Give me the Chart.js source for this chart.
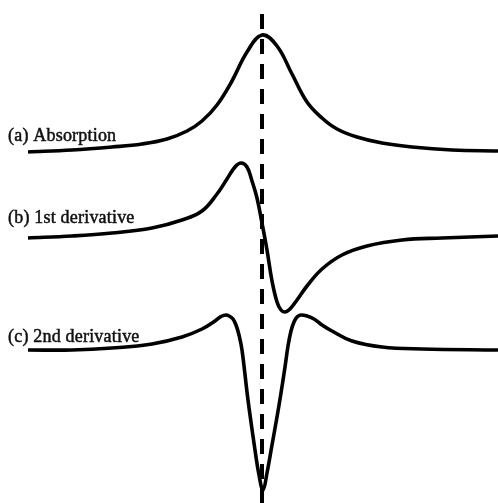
<!DOCTYPE html>
<html>
<head>
<meta charset="utf-8">
<script src="https://cdn.jsdelivr.net/npm/chart.js@4/dist/chart.umd.min.js"></script>
<style>
  html, body { margin: 0; padding: 0; background: #fff; }
  canvas { display: block; }
</style>
</head>
<body>
<canvas id="lineshape" width="498" height="503"></canvas>
<script>
// field offset from resonance (arb. units) and trace heights (arb. units)
const absX = [-234, -190, -150, -120, -95, -75, -60, -45, -30, -15, 0, 15, 30, 45, 60, 75, 95, 120, 150, 190, 236];
const absY = [351, 353, 356, 359, 364, 372, 382, 398, 422, 451, 468, 457, 429, 401, 385, 374, 366, 360, 356, 353, 352];

const d1X = [-234, -190, -150, -110, -80, -60, -45, -35, -27, -21, -15, -10, -5, 0, 5, 10, 15, 19, 23, 28, 35, 45, 60, 80, 105, 140, 180, 236];
const d1Y = [265, 267, 270, 275, 283, 292, 309, 324, 336, 340, 336, 322, 305, 280, 253, 222, 201, 193, 191, 194, 203, 217, 234, 248, 257, 263, 265, 267];

const d2X = [-234, -190, -150, -110, -80, -60, -47, -41, -36, -32, -29, -26, -23, -20, -14, -7, -3, 1, 5, 10, 15, 19, 23, 26, 29, 32, 35, 39, 45, 52, 60, 70, 90, 120, 160, 236];
const d2Y = [153, 153, 155, 159, 166, 174, 182, 186.5, 188, 186.5, 184, 178, 168, 153, 103, 53, 28, 13, 30, 58, 86, 110, 136, 157, 172, 181, 186, 188, 187, 184, 178, 172, 162, 156, 154, 153];

// resonance marker
const centreX = [0, 0];
const centreY = [489, 0];

const traceNames = ['(a) Absorption', '(b) 1st derivative', '(c) 2nd derivative'];

const pairs = (xs, ys) => xs.map((x, i) => ({ x: x, y: ys[i] }));

const traceLabels = {
  id: 'traceLabels',
  afterDatasetsDraw(chart, args, opts) {
    const { ctx, scales } = chart;
    ctx.save();
    ctx.fillStyle = '#111';
    ctx.strokeStyle = '#111';
    ctx.lineWidth = 0.5;
    ctx.font = opts.font;
    ctx.letterSpacing = opts.spacing;
    ctx.textBaseline = 'alphabetic';
    traceNames.forEach((name, i) => {
      const px = scales.x.getPixelForValue(opts.anchors[i][0]);
      const py = scales.y.getPixelForValue(opts.anchors[i][1]);
      ctx.fillText(name, px, py);
      ctx.strokeText(name, px, py);
    });
    ctx.restore();
  }
};

const line = {
  borderColor: '#000',
  borderWidth: 3.6,
  pointRadius: 0,
  fill: false,
  tension: 0.4
};

new Chart(document.getElementById('lineshape'), {
  type: 'line',
  data: {
    datasets: [
      { label: traceNames[0], data: pairs(absX, absY), ...line },
      { label: traceNames[1], data: pairs(d1X, d1Y), ...line },
      { label: traceNames[2], data: pairs(d2X, d2Y), ...line },
      { label: 'resonance', data: pairs(centreX, centreY), borderColor: '#000', borderWidth: 4, borderDash: [15, 10], pointRadius: 0, tension: 0 }
    ]
  },
  options: {
    responsive: false,
    animation: false,
    layout: { padding: 0 },
    scales: {
      x: { type: 'linear', min: -262, max: 236, display: false },
      y: { type: 'linear', min: 0, max: 503, display: false }
    },
    plugins: {
      legend: { display: false },
      tooltip: { enabled: false },
      traceLabels: {
        font: '18px "Liberation Serif", serif',
        spacing: '0.2px',
        anchors: [[-254, 362], [-254, 280], [-254, 161]]
      }
    }
  },
  plugins: [traceLabels]
});
</script>
</body>
</html>
